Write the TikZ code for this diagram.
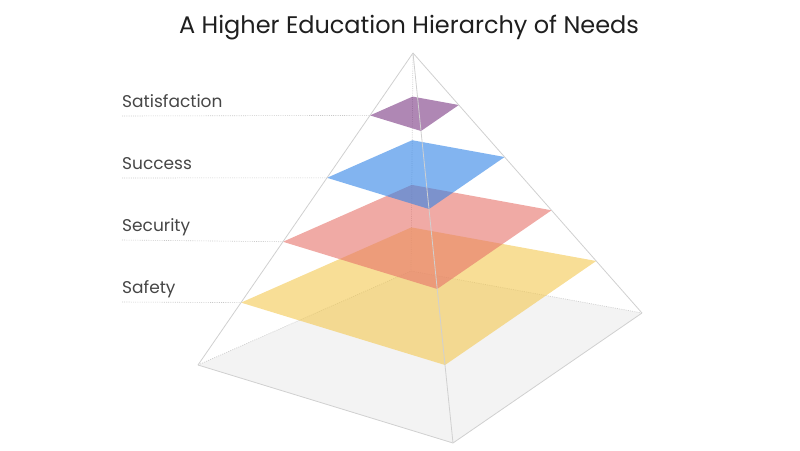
\documentclass[tikz,border=0pt]{standalone}
\usepackage{fontspec}
\setmainfont{Poppins}
\usetikzlibrary{calc}
\definecolor{edgegrey}{RGB}{208,208,208}
\definecolor{dotgrey}{RGB}{200,200,200}
\definecolor{basegrey}{RGB}{243,243,243}
\definecolor{lyellow}{RGB}{243,200,80}
\definecolor{lred}{RGB}{230,113,105}
\definecolor{lblue}{RGB}{47,130,230}
\definecolor{lpurple}{RGB}{122,55,130}
\definecolor{labelgrey}{RGB}{70,70,70}
\begin{document}
\begin{tikzpicture}[x=1pt,y=-1pt,
  edge/.style={draw=edgegrey,line width=0.8pt},
  hidden/.style={draw=edgegrey,line width=0.7pt,dash pattern=on 1pt off 1.2pt},
  guide/.style={draw=dotgrey,line width=0.6pt,dash pattern=on 1pt off 1.2pt},
  layer/.style={fill=#1,fill opacity=0.6,draw=none},
  lbl/.style={anchor=base west,inner sep=0pt,text=labelgrey,font=\fontsize{17}{20}\selectfont},
  ttl/.style={anchor=base,inner sep=0pt,text=black!88,font=\fontsize{24}{28}\selectfont}]
\useasboundingbox (0,0) rectangle (800,450);
% pyramid vertices
\coordinate (A) at (413,53);
\coordinate (L) at (198,365);
\coordinate (F) at (453,443);
\coordinate (R) at (642,313);
\coordinate (B) at (411,271);
% base
\fill[basegrey] (L) -- (F) -- (R) -- (B) -- cycle;
\draw[hidden] (L) -- (B) -- (R);
\draw[hidden] (A) -- (B);
% layers
\foreach \t/\c/\n in {0.2/lyellow/s1,0.395/lred/s2,0.6/lblue/s3,0.8/lpurple/s4}{
  \coordinate (\n L) at ($(L)!\t!(A)$);
  \coordinate (\n F) at ($(F)!\t!(A)$);
  \coordinate (\n R) at ($(R)!\t!(A)$);
  \coordinate (\n B) at ($(B)!\t!(A)$);
  \fill[layer=\c] (\n L) -- (\n F) -- (\n R) -- (\n B) -- cycle;
}
% visible edges
\draw[edge] (L) -- (F) -- (R);
\draw[edge] (A) -- (L);
\draw[edge] (A) -- (F);
\draw[edge] (A) -- (R);
% labels
\node[lbl] (t4) at (122,107) {Satisfaction};
\node[lbl] (t3) at (122,169) {Success};
\node[lbl] (t2) at (122,231) {Security};
\node[lbl] (t1) at (122,293) {Safety};
\coordinate (g4) at (122,116);
\coordinate (g3) at (122,178);
\coordinate (g2) at (122,240);
\coordinate (g1) at (122,302);
\draw[guide] (g4) -- (s4L);
\draw[guide] (g3) -- (s3L);
\draw[guide] (g2) -- (s2L);
\draw[guide] (g1) -- (s1L);
\node[ttl] (title) at (409,33) {A Higher Education Hierarchy of Needs};
\end{tikzpicture}
\end{document}
